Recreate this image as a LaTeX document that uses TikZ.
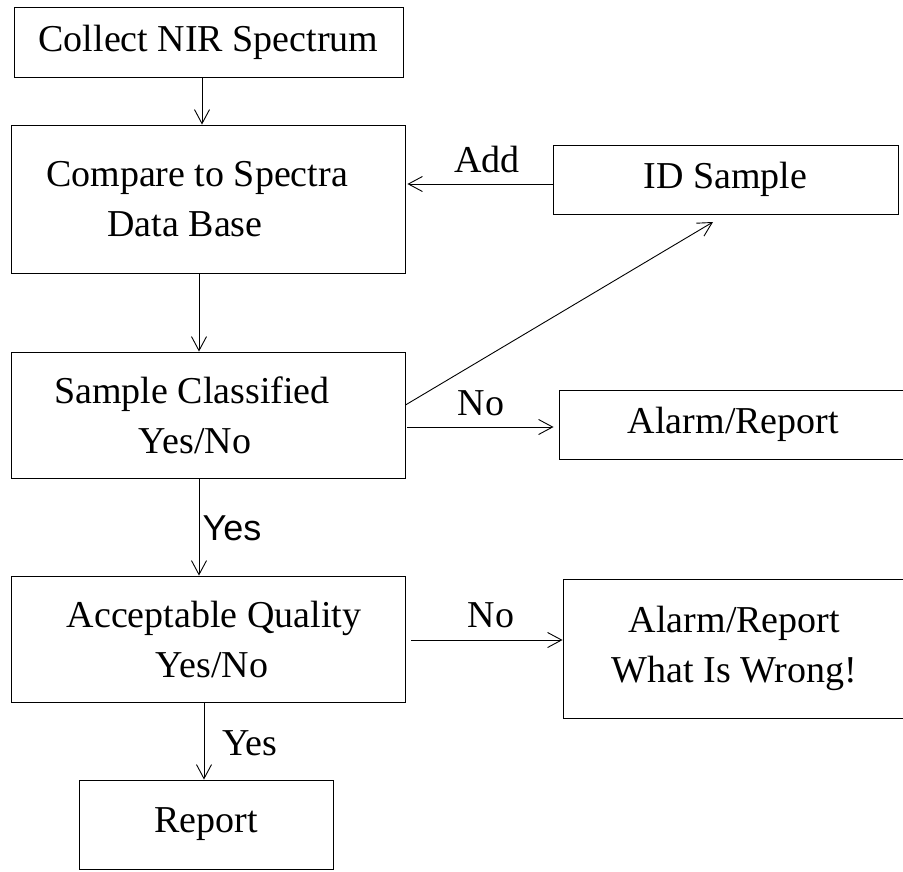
\documentclass[tikz,border=0pt]{standalone}
\usepackage{fontspec}
\setmainfont{Liberation Serif}
\newfontfamily\sansf{Liberation Sans}
\usetikzlibrary{arrows.meta}
\begin{document}
\begin{tikzpicture}[x=1pt,y=-1pt,
  box/.style={draw, line width=0.9pt, rectangle, inner sep=0pt, align=center,
              font=\fontsize{38}{50}\selectfont},
  arr/.style={draw, line width=0.9pt,
              -{Straight Barb[length=14pt,width=15pt,line width=0.9pt]}},
  lbl/.style={font=\fontsize{38}{46}\selectfont, inner sep=0pt, anchor=base},
  slbl/.style={font=\sansf\fontsize{36}{42}\selectfont, inner sep=0pt, anchor=base}]
\useasboundingbox (0,0) rectangle (903,871);

% boxes
\node[box, minimum width=389pt, minimum height=70pt] (collect) at (208.5,42) {\raisebox{-3pt}{Collect NIR Spectrum}};
\node[box, minimum width=394pt, minimum height=148pt] (compare) at (208,199) {\hspace*{-22pt}Compare to Spectra\\\hspace*{-46pt}Data Base};
\node[box, minimum width=394pt, minimum height=126pt] (classified) at (208,415) {\hspace*{-32pt}Sample Classified\\\hspace*{-26pt}Yes/No};
\node[box, minimum width=394pt, minimum height=126pt] (quality) at (208,639) {\hspace*{12pt}Acceptable Quality\\\hspace*{8pt}Yes/No};
\node[box, minimum width=254pt, minimum height=89pt] (report) at (206,824.5) {Report};
\node[box, minimum width=345pt, minimum height=69pt] (idsample) at (725.5,179.5) {ID Sample};
\node[box, minimum width=349pt, minimum height=69pt] (alarm1) at (733.5,424.5) {Alarm/Report};
\node[box, minimum width=343pt, minimum height=139pt] (alarm2) at (734.5,648.5) {Alarm/Report\\What Is Wrong!};

% helper coordinates
\coordinate (xa) at (202,0);
\coordinate (xb) at (199,0);
\coordinate (xc) at (204,0);
\coordinate (yadd) at (0,184);
\coordinate (ydiag) at (0,405);
\coordinate (dtip) at (713,222);
\coordinate (yno1) at (0,427);
\coordinate (yno2) at (0,640);

% connectors
\draw[arr] (collect.south -| xa) -- (compare.north -| xa);
\draw[arr] (compare.south -| xb) -- (classified.north -| xb);
\draw[arr] (classified.south -| xb) -- (quality.north -| xb);
\draw[arr] (quality.south -| xc) -- (report.north -| xc);
\draw[arr, shorten >=2pt] (idsample.west |- yadd) -- (compare.east |- yadd);
\draw[arr] (classified.east |- ydiag) -- (dtip);
\draw[arr, shorten <=2pt, shorten >=5pt] (classified.east |- yno1) -- (alarm1.west |- yno1);
\draw[arr, shorten <=6pt] (quality.east |- yno2) -- (alarm2.west |- yno2);

% labels
\node[lbl] (ladd) at (487,172) {Add};
\node[lbl] (lno1) at (481,415) {No};
\node[lbl] (lno2) at (491,627) {No};
\node[slbl] (lyes1) at (232,540) {Yes};
\node[lbl] (lyes2) at (250,755) {Yes};
\end{tikzpicture}
\end{document}
